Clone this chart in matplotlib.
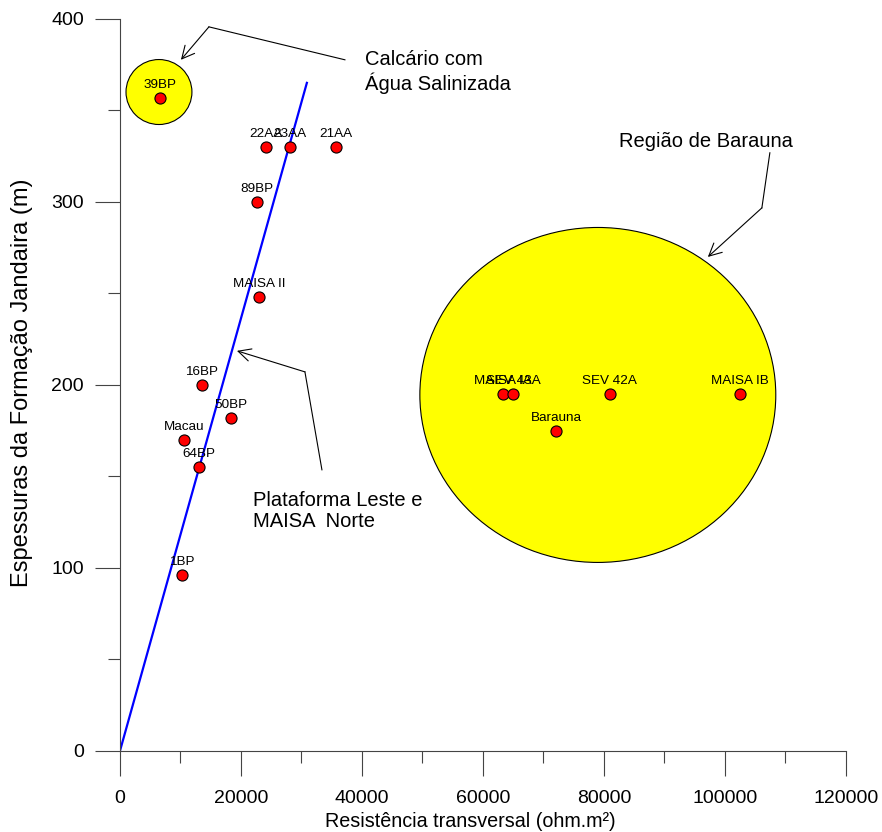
import matplotlib.pyplot as plt
from matplotlib.patches import Ellipse
from matplotlib.ticker import MultipleLocator

plt.rcParams['font.family'] = ['Liberation Sans', 'DejaVu Sans']

# wells: resistencia transversal (ohm.m2) x espessura (m)
names = ['39BP', '22AA', '23AA', '21AA', '89BP', 'MAISA II', '16BP', '50BP',
         'Macau', '64BP', '1BP', 'MAISA IA', 'SEV 43A', 'SEV 42A', 'MAISA IB', 'Barauna']
resist = [6600, 24100, 28100, 35700, 22600, 23000, 13500, 18400,
          10600, 13100, 10300, 63300, 65000, 81000, 102500, 72100]
espess = [357, 330, 330, 330, 300, 248, 200, 182,
          170, 155, 96, 195, 195, 195, 195, 175]

# fitted line
line_x = [0, 30900]
line_y = [0, 365]

fig = plt.figure(figsize=(8.82, 8.32), dpi=100)
ax = fig.add_axes([0.136, 0.0974, 0.823, 0.88])

ax.add_patch(Ellipse((6450, 360), 10900, 35.5, facecolor='yellow', edgecolor='black', lw=0.8, zorder=1))
ax.add_patch(Ellipse((79000, 194.5), 58840, 183, facecolor='yellow', edgecolor='black', lw=0.8, zorder=1))

ax.plot(line_x, line_y, color='blue', lw=1.6, zorder=2)
ax.plot(resist, espess, 'o', color='red', mec='black', mew=0.8, ms=8, zorder=3)
for n, x, y in zip(names, resist, espess):
    ax.annotate(n, (x, y), xytext=(0, 5), textcoords='offset points',
                ha='center', va='bottom', fontsize=9.7, zorder=4)

# annotations with bent arrows
aprops = dict(arrowstyle='->,head_length=0.9,head_width=0.45', color='black', lw=0.8, shrinkA=0, shrinkB=0)
ax.plot([37190, 14710], [377.6, 395.6], color='black', lw=0.8, clip_on=False)
ax.annotate('', xy=(10080, 377.6), xytext=(14710, 395.6), arrowprops=aprops, annotation_clip=False)
ax.text(40500, 371, 'Calcário com\nÁgua Salinizada', fontsize=14.5, ha='left', va='center', linespacing=1.2)

ax.plot([107440, 106120], [326.8, 296.7], color='black', lw=0.8)
ax.annotate('', xy=(97190, 269.9), xytext=(106120, 296.7), arrowprops=aprops)
ax.text(96860, 332.8, 'Região de Barauna', fontsize=14.5, ha='center', va='center')

ax.plot([33390, 30580], [153.6, 207.1], color='black', lw=0.8)
ax.annotate('', xy=(19340, 218.6), xytext=(30580, 207.1), arrowprops=aprops)
ax.text(21980, 131, 'Plataforma Leste e\nMAISA  Norte', fontsize=14.5, ha='left', va='center', linespacing=1.15)

ax.set_xlim(0, 120000)
ax.set_ylim(0, 400)
ax.xaxis.set_major_locator(MultipleLocator(20000))
ax.xaxis.set_minor_locator(MultipleLocator(10000))
ax.yaxis.set_major_locator(MultipleLocator(100))
ax.yaxis.set_minor_locator(MultipleLocator(50))
ax.spines['top'].set_visible(False)
ax.spines['right'].set_visible(False)
for s in ['left', 'bottom']:
    ax.spines[s].set_color('#444444')
    ax.spines[s].set_linewidth(0.8)
ax.tick_params(which='major', direction='out', length=18, width=0.8, color='#444444', labelsize=14)
ax.tick_params(which='minor', direction='out', length=8.6, width=0.8, color='#444444')
ax.tick_params(axis='x', which='major', pad=10)
ax.tick_params(axis='y', which='major', pad=8)

ax.set_xlabel('Resistência transversal (ohm.m²)', fontsize=14.2)
ax.set_ylabel('Espessuras da Formação Jandaira (m)', fontsize=17)
ax.xaxis.set_label_coords(0.483, -0.083)
ax.yaxis.set_label_coords(-0.12, 0.503)

fig.savefig('out.png', dpi=100)
